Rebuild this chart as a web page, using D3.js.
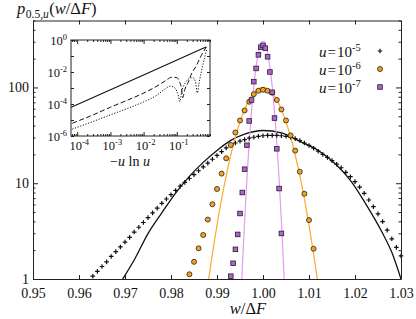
<!DOCTYPE html>
<html>
<head>
<meta charset="utf-8">
<script src="https://cdn.jsdelivr.net/npm/d3@7"></script>
<style>
  body { margin: 0; background: #fff; }
  svg text { font-family: "Liberation Serif", "DejaVu Serif", serif; fill: #111; }
  .axis path, .axis line { stroke: #222; }
</style>
</head>
<body>
<svg id="chart" width="416" height="319"></svg>
<script>
// u = 1e-5 (crosses)
var crossW = [0.963, 0.964, 0.965, 0.966, 0.967, 0.968, 0.969, 0.970, 0.971, 0.972,
  0.973, 0.974, 0.975, 0.976, 0.977, 0.978, 0.979, 0.980, 0.981, 0.982,
  0.983, 0.984, 0.985, 0.986, 0.987, 0.988, 0.989, 0.990, 0.991, 0.992,
  0.993, 0.994, 0.995, 0.996, 0.997, 0.998, 0.999, 1.000, 1.001, 1.002,
  1.003, 1.004, 1.005, 1.006, 1.007, 1.008, 1.009, 1.010, 1.011, 1.012,
  1.013, 1.014, 1.015, 1.016, 1.017, 1.018, 1.019, 1.020, 1.021, 1.022,
  1.023, 1.024, 1.025, 1.026, 1.027, 1.028, 1.029, 1.030];
var crossP = [1.07, 1.20, 1.35, 1.51, 1.72, 1.93, 2.16, 2.43, 2.72, 3.09,
  3.47, 3.89, 4.37, 4.90, 5.50, 6.17, 6.84, 7.59, 8.41, 9.33,
  10.2, 11.2, 12.3, 13.5, 14.8, 16.2, 17.8, 19.5, 21.4, 23.4,
  24.8, 26.3, 27.5, 28.5, 29.5, 30.2, 30.9, 31.3, 31.6, 31.6,
  31.6, 31.3, 30.9, 30.2, 29.2, 27.9, 26.3, 24.8, 23.2, 21.6,
  20.0, 18.6, 17.2, 15.8, 14.5, 13.0, 11.7, 10.4, 9.12, 7.85,
  6.68, 5.69, 4.79, 3.98, 3.24, 2.63, 2.14, 1.74];

// u = 1e-6 (circles)
var circleW = [0.984, 0.985, 0.986, 0.987, 0.988, 0.989, 0.990, 0.991, 0.992, 0.993,
  0.994, 0.995, 0.996, 0.997, 0.998, 0.999, 1.000, 1.001, 1.002, 1.003,
  1.004, 1.005, 1.006, 1.007, 1.008, 1.009, 1.010, 1.011];
var circleP = [1.12, 1.51, 2.09, 2.88, 4.17, 6.03, 8.71, 12.6, 18.2, 25.1,
  33.9, 45.2, 57.5, 70.8, 85.1, 92.3, 94.4, 92.3, 88.1, 74.1,
  58.9, 45.2, 31.6, 21.9, 13.2, 7.76, 4.12, 2.07];

// u = 1e-7 (squares)
var squareW = [0.9930, 0.9935, 0.9940, 0.9945, 0.9950, 0.9955, 0.9960, 0.9965, 0.9970, 0.9975,
  0.9980, 0.9985, 0.9990, 0.9995, 1.0000, 1.0005, 1.0010, 1.0015, 1.0020, 1.0025,
  1.0030, 1.0035, 1.0040];
var squareP = [1.07, 1.46, 2.04, 2.92, 4.83, 8.0, 14.0, 24.9, 44.7, 74,
  115, 158, 219, 263, 275, 257, 209, 145, 89, 47.9,
  22.9, 8.8, 2.99];

// fitted curves
var blackW = [0.9695, 0.972, 0.975, 0.978, 0.981, 0.984, 0.987, 0.990, 0.993, 0.996,
  1.000, 1.004, 1.008, 1.012, 1.016, 1.019, 1.0225, 1.026, 1.028, 1.030];
var blackP = [1.0, 1.58, 2.98, 4.9, 7.9, 11.8, 16.5, 22.0, 28.0, 32.5,
  35.5, 33.5, 27.4, 22.0, 15.5, 10.7, 5.9, 3.0, 1.9, 1.0];

var orangeW = [0.9882, 0.989, 0.990, 0.992, 0.994, 0.996, 0.998, 1.000,
  1.002, 1.004, 1.006, 1.008, 1.010, 1.011, 1.0118];
var orangeP = [1, 1.83, 3.66, 12.0, 30.4, 58.9, 87.7, 100,
  87.7, 58.9, 30.4, 12.0, 3.66, 1.83, 1];

var violetW = [0.9954, 0.9956, 0.9960, 0.9965, 0.9970, 0.9975, 0.9980, 0.9985, 0.9990, 0.9995,
  1.0000, 1.0005, 1.0010, 1.0015, 1.0020, 1.0025, 1.0030, 1.0035, 1.0040, 1.0044, 1.0046];
var violetP = [1, 1.63, 4.03, 11.1, 26.6, 56, 103, 164, 231, 282,
  302, 282, 231, 164, 103, 56, 26.6, 11.1, 4.03, 1.63, 1];

// inset: -u ln u
var insetSolidX = [6.6e-5, 0.01, 0.78];
var insetSolidY = [6.2e-5, 6.6e-3, 0.37];
var insetDashX = [7.1e-5, 3.2e-4, 1e-3, 3.2e-3, 0.01, 0.025, 0.045, 0.071, 0.1, 0.12,
  0.138, 0.151, 0.174, 0.219, 0.275, 0.389, 0.55, 0.776];
var insetDashY = [6.3e-6, 2.2e-5, 6.3e-5, 1.7e-4, 4.8e-4, 1.3e-3, 2.8e-3, 4.7e-3, 4.5e-3, 2.5e-3,
  1.0e-3, 2.5e-4, 7.9e-4, 2.2e-3, 7.4e-3, 0.025, 0.11, 0.37];
var insetDotX = [7.1e-5, 3.2e-4, 1e-3, 3.2e-3, 0.01, 0.025, 0.045, 0.063, 0.083, 0.1,
  0.112, 0.123, 0.141, 0.178, 0.24, 0.302, 0.363, 0.417, 0.468, 0.603, 0.813];
var insetDotY = [2.7e-6, 8.5e-6, 2.1e-5, 5.2e-5, 1.35e-4, 3.5e-4, 8.9e-4, 1.3e-3, 1.1e-3, 6.3e-4,
  3.2e-4, 1.4e-4, 6.3e-4, 2e-3, 4e-3, 4.5e-3, 2.5e-3, 5e-4, 2e-3, 0.025, 0.3];

var xTicks = [0.95, 0.96, 0.97, 0.98, 0.99, 1.00, 1.01, 1.02, 1.03];
var yTicks = [1, 10, 100];
var legendExp = ['-5', '-6', '-7'];
var insetXTicks = [1e-4, 1e-3, 1e-2, 1e-1];
var insetYTicks = [1e-6, 1e-5, 1e-4, 1e-3, 1e-2, 1e-1, 1];
var insetYLabels = [1e-6, 1e-4, 1e-2, 1];

(function () {
  var orange = '#f7a21b';
  var orangeLine = '#ffa92e';
  var violet = '#b260d8';
  var violetLine = '#e49af2';

  var svg = d3.select('#chart');
  var pL = 33, pR = 401, pT = 20.5, pB = 279;

  var x = d3.scaleLinear().domain([0.95, 1.03]).range([pL, pR]);
  var y = d3.scaleLog().domain([1, 500]).range([pB, pT]);

  svg.append('clipPath').attr('id', 'plotclip')
    .append('rect').attr('x', pL).attr('y', pT)
    .attr('width', pR - pL).attr('height', pB - pT);

  // axes (ticks inward)
  var minorY = y.ticks().filter(function (d) { return yTicks.indexOf(d) < 0; });

  svg.append('g').attr('class', 'axis')
    .attr('transform', 'translate(0,' + pB + ')')
    .call(d3.axisBottom(x).tickValues(xTicks).tickSizeInner(-4).tickSizeOuter(0).tickPadding(9)
      .tickFormat(d3.format('.2f')))
    .call(function (g) { g.selectAll('text').style('font-size', '14px'); });
  svg.append('g').attr('class', 'axis')
    .attr('transform', 'translate(0,' + pT + ')')
    .call(d3.axisTop(x).tickValues(xTicks).tickSizeInner(-4).tickSizeOuter(0).tickFormat(''));
  svg.append('g').attr('class', 'axis')
    .attr('transform', 'translate(' + pL + ',0)')
    .call(d3.axisLeft(y).tickValues(yTicks).tickSizeInner(-5).tickSizeOuter(0).tickPadding(4)
      .tickFormat(d3.format('d')))
    .call(function (g) { g.selectAll('text').style('font-size', '14px'); });
  svg.append('g').attr('class', 'axis')
    .attr('transform', 'translate(' + pL + ',0)')
    .call(d3.axisLeft(y).tickValues(minorY).tickSizeInner(-2.5).tickSizeOuter(0).tickFormat(''))
    .call(function (g) { g.select('.domain').remove(); });
  svg.append('g').attr('class', 'axis')
    .attr('transform', 'translate(' + pR + ',0)')
    .call(d3.axisRight(y).tickValues(yTicks).tickSizeInner(-5).tickSizeOuter(0).tickFormat(''));
  svg.append('g').attr('class', 'axis')
    .attr('transform', 'translate(' + pR + ',0)')
    .call(d3.axisRight(y).tickValues(minorY).tickSizeInner(-2.5).tickSizeOuter(0).tickFormat(''))
    .call(function (g) { g.select('.domain').remove(); });

  // curves
  var plot = svg.append('g').attr('clip-path', 'url(#plotclip)');
  var line = d3.line()
    .x(function (d) { return x(d[0]); })
    .y(function (d) { return y(d[1]); })
    .curve(d3.curveMonotoneX);

  function drawCurve(ws, ps, color, width) {
    plot.append('path')
      .attr('d', line(d3.zip(ws, ps)))
      .attr('fill', 'none')
      .attr('stroke', color)
      .attr('stroke-width', width);
  }
  drawCurve(blackW, blackP, '#111', 1.3);
  drawCurve(orangeW, orangeP, orangeLine, 1.2);
  drawCurve(violetW, violetP, violetLine, 1.2);

  // markers
  var crossSize = 2.3;
  svg.append('g').selectAll('path')
    .data(d3.zip(crossW, crossP))
    .join('path')
    .attr('d', function (d) {
      var cx = x(d[0]), cy = y(d[1]);
      return 'M' + (cx - crossSize) + ',' + cy + 'H' + (cx + crossSize) +
        'M' + cx + ',' + (cy - crossSize) + 'V' + (cy + crossSize);
    })
    .attr('stroke', '#111')
    .attr('stroke-width', 1.2);

  svg.append('g').selectAll('circle')
    .data(d3.zip(circleW, circleP))
    .join('circle')
    .attr('cx', function (d) { return x(d[0]); })
    .attr('cy', function (d) { return y(d[1]); })
    .attr('r', 2.5)
    .attr('fill', orange)
    .attr('stroke', '#222')
    .attr('stroke-width', 0.8);

  var sq = 4.6;
  svg.append('g').selectAll('rect')
    .data(d3.zip(squareW, squareP))
    .join('rect')
    .attr('x', function (d) { return x(d[0]) - sq / 2; })
    .attr('y', function (d) { return y(d[1]) - sq / 2; })
    .attr('width', sq)
    .attr('height', sq)
    .attr('fill', violet)
    .attr('stroke', '#222')
    .attr('stroke-width', 0.8);

  // legend
  var legend = svg.append('g');
  legendExp.forEach(function (e, i) {
    var by = 57 + i * 18;
    var t = legend.append('text').attr('x', 319).attr('y', by).style('font-size', '15px');
    t.append('tspan').style('font-style', 'italic').text('u');
    t.append('tspan').attr('dx', 1).text('=');
    t.append('tspan').attr('dx', 1).text('10');
    t.append('tspan').attr('dy', -6).style('font-size', '10.5px').text(e);
    var my = by - 6;
    if (i === 0) {
      legend.append('path')
        .attr('d', 'M377.7,' + my + 'H382.3M380,' + (my - 2.3) + 'V' + (my + 2.3))
        .attr('stroke', '#111').attr('stroke-width', 1.2);
    } else if (i === 1) {
      legend.append('circle').attr('cx', 380).attr('cy', my).attr('r', 2.5)
        .attr('fill', orange).attr('stroke', '#222').attr('stroke-width', 0.8);
    } else {
      legend.append('rect').attr('x', 380 - sq / 2).attr('y', my - sq / 2)
        .attr('width', sq).attr('height', sq)
        .attr('fill', violet).attr('stroke', '#222').attr('stroke-width', 0.8);
    }
  });

  // axis titles
  var yt = svg.append('text').attr('x', 17).attr('y', 14).style('font-size', '16.5px');
  yt.append('tspan').style('font-style', 'italic').text('p');
  yt.append('tspan').attr('dy', 3.5).attr('dx', 0.5).style('font-size', '11.5px').text('0.5,');
  yt.append('tspan').style('font-size', '11.5px').style('font-style', 'italic').text('u');
  yt.append('tspan').attr('dy', -3.5).attr('dx', 0.5).text('(');
  yt.append('tspan').style('font-style', 'italic').text('w');
  yt.append('tspan').text('/Δ');
  yt.append('tspan').style('font-style', 'italic').text('F');
  yt.append('tspan').text(')');

  var xt = svg.append('text').attr('x', 248).attr('y', 314)
    .attr('text-anchor', 'middle').style('font-size', '16.5px');
  xt.append('tspan').style('font-style', 'italic').text('w');
  xt.append('tspan').text('/Δ');
  xt.append('tspan').style('font-style', 'italic').text('F');

  // inset
  var iL = 71, iR = 210, iT = 40, iB = 136;
  var ix = d3.scaleLog().domain([6.5e-5, 1]).range([iL, iR]);
  var iy = d3.scaleLog().domain([1e-6, 1]).range([iB, iT]);

  var inset = svg.append('g');
  inset.append('rect').attr('x', iL).attr('y', iT)
    .attr('width', iR - iL).attr('height', iB - iT)
    .attr('fill', '#fff').attr('stroke', '#222').attr('stroke-width', 1);

  svg.append('clipPath').attr('id', 'insetclip')
    .append('rect').attr('x', iL).attr('y', iT)
    .attr('width', iR - iL).attr('height', iB - iT);

  var minorIX = ix.ticks().filter(function (d) { return insetXTicks.indexOf(d) < 0; });

  function insetAxis(gen, pos, vals, size) {
    inset.append('g').attr('class', 'axis')
      .attr('transform', pos)
      .call(gen.tickValues(vals).tickSizeInner(-size).tickSizeOuter(0).tickFormat(''))
      .call(function (g) { g.select('.domain').remove(); });
  }
  insetAxis(d3.axisBottom(ix), 'translate(0,' + iB + ')', insetXTicks, 4);
  insetAxis(d3.axisBottom(ix), 'translate(0,' + iB + ')', minorIX, 2);
  insetAxis(d3.axisTop(ix), 'translate(0,' + iT + ')', insetXTicks, 4);
  insetAxis(d3.axisTop(ix), 'translate(0,' + iT + ')', minorIX, 2);
  insetAxis(d3.axisLeft(iy), 'translate(' + iL + ',0)', insetYTicks, 3);
  insetAxis(d3.axisRight(iy), 'translate(' + iR + ',0)', insetYTicks, 3);

  function powLabel(g, v, px, py, anchor) {
    var t = g.append('text').attr('x', px).attr('y', py)
      .attr('text-anchor', anchor).style('font-size', '12.5px');
    t.append('tspan').text('10');
    t.append('tspan').attr('dy', -5).style('font-size', '8.5px')
      .text(Math.round(Math.log10(v)));
  }
  insetXTicks.forEach(function (v) { powLabel(inset, v, ix(v) + 2, iB + 14, 'middle'); });
  insetYLabels.forEach(function (v) { powLabel(inset, v, iL - 4, iy(v) + 5, 'end'); });

  var ilt = inset.append('text').attr('x', 130).attr('y', 166)
    .attr('text-anchor', 'middle').style('font-size', '14px');
  ilt.append('tspan').text('−');
  ilt.append('tspan').style('font-style', 'italic').text('u');
  ilt.append('tspan').text(' ln ');
  ilt.append('tspan').style('font-style', 'italic').text('u');

  var iline = d3.line()
    .x(function (d) { return ix(d[0]); })
    .y(function (d) { return iy(d[1]); })
    .curve(d3.curveMonotoneX);
  var ig = inset.append('g').attr('clip-path', 'url(#insetclip)');
  ig.append('path').attr('d', iline(d3.zip(insetSolidX, insetSolidY)))
    .attr('fill', 'none').attr('stroke', '#111').attr('stroke-width', 1.1);
  ig.append('path').attr('d', iline(d3.zip(insetDashX, insetDashY)))
    .attr('fill', 'none').attr('stroke', '#111').attr('stroke-width', 1)
    .attr('stroke-dasharray', '5,2.5');
  ig.append('path').attr('d', iline(d3.zip(insetDotX, insetDotY)))
    .attr('fill', 'none').attr('stroke', '#111').attr('stroke-width', 1)
    .attr('stroke-dasharray', '1.2,1.6');
})();
</script>
</body>
</html>
